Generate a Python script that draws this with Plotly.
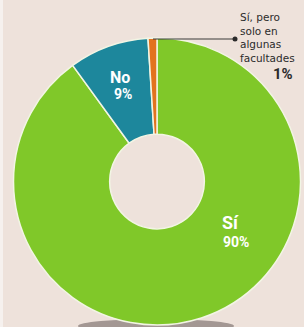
import plotly.graph_objects as go

labels = ["Sí", "No", "Sí, pero solo en algunas facultades"]
values = [90, 9, 1]
colors = ["#80c829", "#1d879c", "#e2731e"]
callout_lines = ["Sí, pero", "solo en", "algunas", "facultades"]

W, H = 304, 327
def px(x):
    return x / W
def py(y):
    return 1 - y / H

FONT = "Roboto, Liberation Sans, sans-serif"

fig = go.Figure()
fig.add_trace(go.Pie(
    labels=labels,
    values=values,
    hole=0.33,
    sort=False,
    direction="clockwise",
    rotation=0,
    marker=dict(colors=colors, line=dict(color="#f2f5e4", width=1.5)),
    textinfo="none",
    hoverinfo="label+percent",
    showlegend=False,
    domain=dict(x=[px(13), px(301)], y=[py(325), py(38)]),
))

def lab(x, y, text, size, color="white", family=FONT, **kw):
    d = dict(x=px(x), y=py(y), text=text, showarrow=False,
             xanchor="center", yanchor="middle",
             font=dict(family=family, size=size, color=color),
             xref="paper", yref="paper")
    d.update(kw)
    return d

anns = [
    lab(120, 77.5, f"<b>{labels[1]}</b>", 16),
    lab(123, 93.5, f"<b>{values[1]}%</b>", 14),
    lab(231, 223, f"<b>{labels[0]}</b>", 18),
    lab(236, 241.5, f"<b>{values[0]}%</b>", 14),
    lab(283, 74, f"<b>{values[2]}%</b>", 15, color="#2b2b2b"),
    lab(238, 9, "<br>".join(callout_lines), 10.5, color="#2b2b2b",
        family="DejaVu Sans, sans-serif", xanchor="left", yanchor="top", align="left"),
]

shapes = [
    dict(type="circle", xref="paper", yref="paper", x0=px(78), y0=py(333), x1=px(234), y1=py(319),
         fillcolor="rgba(70,60,60,0.45)", line=dict(width=0), layer="below"),
    dict(type="line", xref="paper", yref="paper", x0=px(153), y0=py(39), x1=px(235), y1=py(39),
         line=dict(color="#3a3a3a", width=1.2), layer="above"),
    dict(type="circle", xref="paper", yref="paper", x0=px(232.5), y0=py(36.5), x1=px(237.5), y1=py(41.5),
         fillcolor="#2b2b2b", line=dict(width=0), layer="above"),
    dict(type="rect", xref="paper", yref="paper", x0=0, y0=0, x1=px(3), y1=1,
         fillcolor="#f6f1ee", line=dict(width=0), layer="below"),
]

fig.update_layout(
    width=W, height=H,
    margin=dict(l=0, r=0, t=0, b=0),
    paper_bgcolor="#eee2db",
    plot_bgcolor="#eee2db",
    annotations=anns,
    shapes=shapes,
)

fig.write_html("out.html", config={"displayModeBar": False},
               post_script="document.body.style.margin='0';")
